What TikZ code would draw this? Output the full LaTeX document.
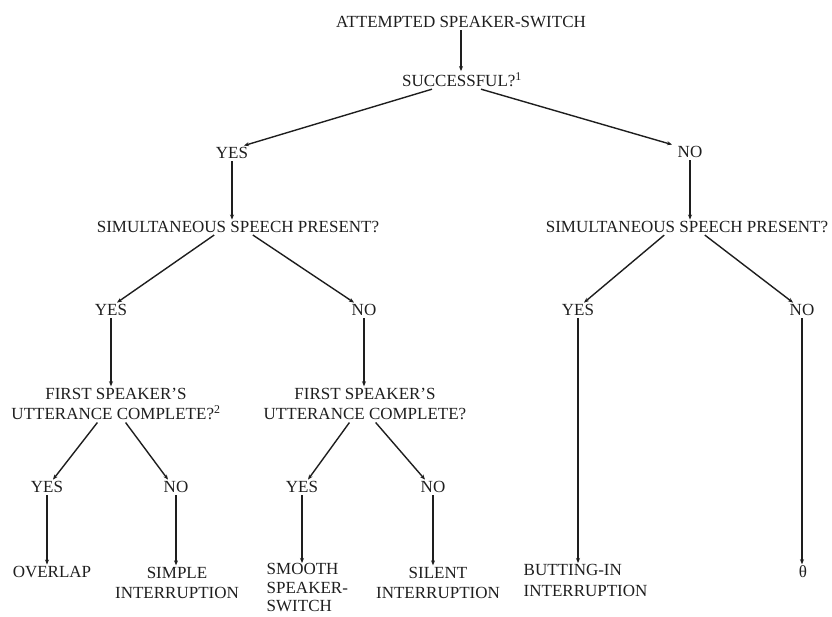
\documentclass[tikz,border=0pt]{standalone}
\usepackage{fontspec}
\setmainfont{Liberation Serif}
\usetikzlibrary{arrows.meta}
\definecolor{ink}{HTML}{1E1E1E}
\begin{document}
\begin{tikzpicture}[x=1pt,y=-1pt,
  lbl/.style={inner sep=1.5pt, font=\fontsize{17}{20.5}\selectfont, text=ink},
  arr/.style={draw=ink, line width=1.4pt, shorten <=1pt, -{Stealth[length=5pt,width=4pt]}}]
\useasboundingbox (0,0) rectangle (832,617);
\node[lbl] (top) at (461,22) {ATTEMPTED SPEAKER-SWITCH};
\node[lbl] (succ) at (462,80) {SUCCESSFUL?\textsuperscript{1}};
\node[lbl] (yes1) at (232,153) {YES};
\node[lbl] (no1) at (690,152) {NO};
\node[lbl] (sim1) at (238,227) {SIMULTANEOUS SPEECH PRESENT?};
\node[lbl] (sim2) at (687,227) {SIMULTANEOUS SPEECH PRESENT?};
\node[lbl] (yes2) at (111,310) {YES};
\node[lbl] (no2) at (364,310) {NO};
\node[lbl] (yes3) at (578,310) {YES};
\node[lbl] (no3) at (802,310) {NO};
\node[lbl, align=center] (first1) at (116,404) {FIRST SPEAKER'S\\UTTERANCE COMPLETE?\textsuperscript{2}};
\node[lbl, align=center] (first2) at (365,404) {FIRST SPEAKER'S\\UTTERANCE COMPLETE?};
\node[lbl] (yes4) at (47,487) {YES};
\node[lbl] (no4) at (176,487) {NO};
\node[lbl] (yes5) at (302,487) {YES};
\node[lbl] (no5) at (433,487) {NO};
\node[lbl] (overlap) at (52,572) {OVERLAP};
\node[lbl, align=center] (simple) at (177,583) {SIMPLE\\INTERRUPTION};
\node[lbl, align=left, anchor=north west, inner sep=0.5pt, font=\fontsize{17}{18.5}\selectfont] (smooth) at (266,563) {SMOOTH\\SPEAKER-\\SWITCH};
\node[lbl, align=center] (silent) at (438,583) {SILENT\\INTERRUPTION};
\node[lbl, align=left, anchor=north west] (butting) at (522,563) {BUTTING-IN\\INTERRUPTION};
\node[lbl] (null) at (803,572) {θ};

\draw[arr] (top.south) -- (top.south |- succ.north);
\draw[arr] ([xshift=-29]succ.south) -- ([xshift=12]yes1.north);
\draw[arr] ([xshift=18]succ.south) -- ([xshift=-18]no1.north);
\draw[arr] (yes1.south) -- (yes1.south |- sim1.north);
\draw[arr] (no1.south) -- (no1.south |- sim2.north);
\draw[arr] ([xshift=-22]sim2.south) -- ([xshift=6]yes3.north);
\draw[arr] ([xshift=-23]sim1.south) -- ([xshift=6]yes2.north);
\draw[arr] ([xshift=14]sim1.south) -- ([xshift=-10]no2.north);
\draw[arr] ([xshift=17]sim2.south) -- ([xshift=-9]no3.north);
\draw[arr] (yes2.south) -- (yes2.south |- first1.north);
\draw[arr] (no2.south) -- (no2.south |- first2.north);
\draw[arr] (yes3.south) -- (yes3.south |- butting.north);
\draw[arr] (no3.south) -- (no3.south |- null.north);
\draw[arr] ([xshift=-18]first1.south) -- ([xshift=6]yes4.north);
\draw[arr] ([xshift=9]first1.south) -- ([xshift=-8]no4.north);
\draw[arr] ([xshift=-15]first2.south) -- ([xshift=6]yes5.north);
\draw[arr] ([xshift=10]first2.south) -- ([xshift=-8]no5.north);
\draw[arr] (yes4.south) -- (yes4.south |- overlap.north);
\draw[arr] (no4.south) -- (no4.south |- simple.north);
\draw[arr] (yes5.south) -- (yes5.south |- smooth.north);
\draw[arr] (no5.south) -- (no5.south |- silent.north);
\end{tikzpicture}
\end{document}
